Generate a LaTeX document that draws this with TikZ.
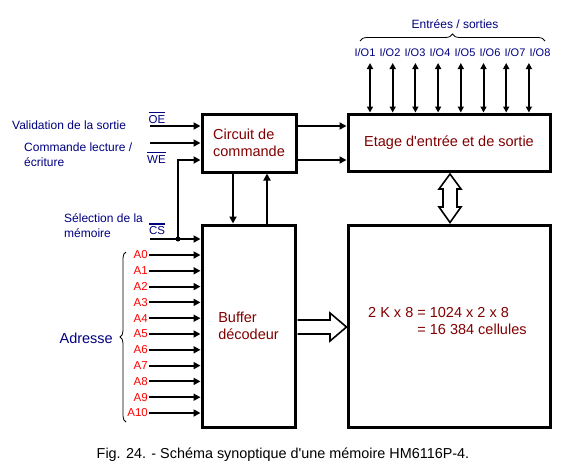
\documentclass[tikz,border=0pt]{standalone}
\usepackage{fontspec}
\setmainfont{Liberation Sans}
\usetikzlibrary{arrows.meta,decorations.pathreplacing}
\definecolor{txt_blue}{RGB}{0, 0, 128}
\definecolor{txt_red}{RGB}{128, 0, 0}
\definecolor{adr_red}{RGB}{255, 0, 0}
\newsavebox{\barbox}
\newcommand{\barre}[1]{%
  \sbox{\barbox}{#1}%
  \rlap{\rule[\dimexpr\ht\barbox+1.6pt\relax]{\wd\barbox}{1.5pt}}\usebox{\barbox}}
\tikzstyle{none}=[inner sep=0pt]
\tikzstyle{blk}=[rectangle,draw=black,line width=3pt,inner sep=0pt,
  font=\fontsize{14.5}{17}\selectfont,text=txt_red,align=left]
\tikzstyle{memtxt}=[inner sep=0pt,text=txt_red,align=left,
  font=\fontsize{14.5}{17}\selectfont]
\tikzstyle{arr}=[line width=2pt,-{Triangle[length=7pt,width=7pt]}]
\tikzstyle{darr}=[line width=2pt,
  {Triangle[length=6pt,width=6pt]}-{Triangle[length=6pt,width=6pt]}]
\tikzstyle{fat}=[line width=1.6pt,fill=white,line join=miter]
\tikzstyle{lbl}=[inner sep=0pt,text=txt_blue,align=left,
  font=\fontsize{12}{15}\selectfont]
\tikzstyle{sig}=[inner sep=0pt,text=txt_blue,font=\fontsize{11.5}{14}\selectfont]
\tikzstyle{addr}=[anchor=east,inner sep=1pt,text=adr_red,
  font=\fontsize{11.5}{14}\selectfont]
\tikzstyle{iolbl}=[inner sep=0pt,text=txt_blue,font=\fontsize{11}{13}\selectfont]
\tikzstyle{accol}=[line width=0.8pt,decorate]
\tikzstyle{junc}=[circle,fill=black,inner sep=0pt,minimum size=5pt]
\tikzstyle{legende}=[inner sep=0pt,text=black,font=\fontsize{14.4}{17}\selectfont]

\begin{document}
\begin{tikzpicture}[x=1pt, y=-1pt]
    \useasboundingbox (0, 0) rectangle (561, 469);
    % blocs
    \node [style=blk, minimum width=94pt, minimum height=58pt] (0) at (249, 143) {Circuit de\\commande};
    \node [style=blk, minimum width=202pt, minimum height=57pt] (1) at (449, 142.5) {Etage d\textquotesingle entrée et de sortie};
    \node [style=blk, minimum width=93pt, minimum height=202pt] (2) at (248.5, 326) {Buffer\\décodeur};
    \node [style=blk, minimum width=202pt, minimum height=202pt] (3) at (449, 326) {};
    \node [style=memtxt, anchor=west] (4) at (368, 320.5) {2 K x 8 = 1024 x 2 x 8\\\hphantom{2 K x 8 }= 16 384 cellules};
    % commandes
    \node [style=lbl, anchor=west] (5) at (12, 125) {Validation de la sortie};
    \node [style=lbl, anchor=west] (6) at (24, 155) {Commande lecture /\\écriture};
    \node [style=lbl, anchor=west] (7) at (64, 226) {Sélection de la\\mémoire};
    \node [style=sig] (8) at (157, 117.5) {\barre{OE}};
    \node [style=sig] (9) at (156.5, 157.5) {\barre{WE}};
    \node [style=sig] (11) at (157, 229) {\barre{CS}};
    \node [style=none] (12) at (150, 126) {};
    \node [style=none] (13) at (150, 143) {};
    \node [style=none] (14) at (178, 160) {};
    \node [style=junc] (15) at (178, 239) {};
    \node [style=none] (16) at (150, 239) {};
    \node [style=none] (17) at (233, 200) {};
    \node [style=none] (18) at (267, 200) {};
    % adresses
    \node [style=addr] (20) at (149, 255) {A0};
    \node [style=addr] (21) at (149, 270.8) {A1};
    \node [style=addr] (22) at (149, 286.6) {A2};
    \node [style=addr] (23) at (149, 302.4) {A3};
    \node [style=addr] (24) at (149, 318.2) {A4};
    \node [style=addr] (25) at (149, 334) {A5};
    \node [style=addr] (26) at (149, 349.8) {A6};
    \node [style=addr] (27) at (149, 365.6) {A7};
    \node [style=addr] (28) at (149, 381.4) {A8};
    \node [style=addr] (29) at (149, 397.2) {A9};
    \node [style=addr] (30) at (149, 413) {A10};
    \node [style=lbl, anchor=east, font=\fontsize{14.5}{17}\selectfont] (31) at (113, 338) {Adresse};
    \node [style=none] (32) at (126, 422) {};
    \node [style=none] (33) at (126, 252) {};
    % entrees / sorties
    \node [style=lbl] (34) at (455, 24) {Entrées / sorties};
    \node [style=none] (35) at (360, 41) {};
    \node [style=none] (36) at (545, 41) {};
    \node [style=iolbl] (40) at (365, 53) {I/O1};
    \node [style=iolbl] (41) at (390, 53) {I/O2};
    \node [style=iolbl] (42) at (415, 53) {I/O3};
    \node [style=iolbl] (43) at (440, 53) {I/O4};
    \node [style=iolbl] (44) at (465, 53) {I/O5};
    \node [style=iolbl] (45) at (490, 53) {I/O6};
    \node [style=iolbl] (46) at (515, 53) {I/O7};
    \node [style=iolbl] (47) at (540, 53) {I/O8};
    \node [style=none] (50) at (370, 63) {};
    \node [style=none] (51) at (392.7, 63) {};
    \node [style=none] (52) at (415.4, 63) {};
    \node [style=none] (53) at (438.1, 63) {};
    \node [style=none] (54) at (460.8, 63) {};
    \node [style=none] (55) at (483.5, 63) {};
    \node [style=none] (56) at (506.2, 63) {};
    \node [style=none] (57) at (528.9, 63) {};
    \node [style=legende] (60) at (283, 455) {Fig. 24. - Schéma synoptique d\textquotesingle une mémoire HM6116P-4.};
    % liaisons
    \draw [style=arr] (12.center) to (12 -| 0.west);
    \draw [style=arr] (13.center) to (13 -| 0.west);
    \draw [style=arr] (15.center) to (14.center) to (14 -| 0.west);
    \draw [style=arr] (16.center) to (16 -| 2.west);
    \draw [style=arr] (0.east |- 12) to (1.west |- 12);
    \draw [style=arr] (0.east |- 14) to (1.west |- 14);
    \draw [style=arr] (0.south -| 17) to (2.north -| 17);
    \draw [style=arr] (2.north -| 18) to (0.south -| 18);
    \draw [style=arr] (20.east) to (20 -| 2.west);
    \draw [style=arr] (21.east) to (21 -| 2.west);
    \draw [style=arr] (22.east) to (22 -| 2.west);
    \draw [style=arr] (23.east) to (23 -| 2.west);
    \draw [style=arr] (24.east) to (24 -| 2.west);
    \draw [style=arr] (25.east) to (25 -| 2.west);
    \draw [style=arr] (26.east) to (26 -| 2.west);
    \draw [style=arr] (27.east) to (27 -| 2.west);
    \draw [style=arr] (28.east) to (28 -| 2.west);
    \draw [style=arr] (29.east) to (29 -| 2.west);
    \draw [style=arr] (30.east) to (30 -| 2.west);
    \draw [style=darr] (50.center) to (50 |- 1.north);
    \draw [style=darr] (51.center) to (51 |- 1.north);
    \draw [style=darr] (52.center) to (52 |- 1.north);
    \draw [style=darr] (53.center) to (53 |- 1.north);
    \draw [style=darr] (54.center) to (54 |- 1.north);
    \draw [style=darr] (55.center) to (55 |- 1.north);
    \draw [style=darr] (56.center) to (56 |- 1.north);
    \draw [style=darr] (57.center) to (57 |- 1.north);
    \draw [style=accol, decoration={brace, amplitude=6pt}] (32.center) -- (33.center);
    \draw [style=accol, decoration={brace, amplitude=7pt}] (35.center) -- (36.center);
    % fleches larges
    \draw [style=fat] (297.5, 320) -- (330, 320) -- (330, 313) -- (346.5, 327) -- (330, 341) -- (330, 334) -- (297.5, 334);
    \draw [style=fat] (450, 174) -- (461, 189) -- (457, 189) -- (457, 207) -- (461, 207) -- (450, 222.5) -- (439, 207) -- (443, 207) -- (443, 189) -- (439, 189) -- cycle;
\end{tikzpicture}
\end{document}
